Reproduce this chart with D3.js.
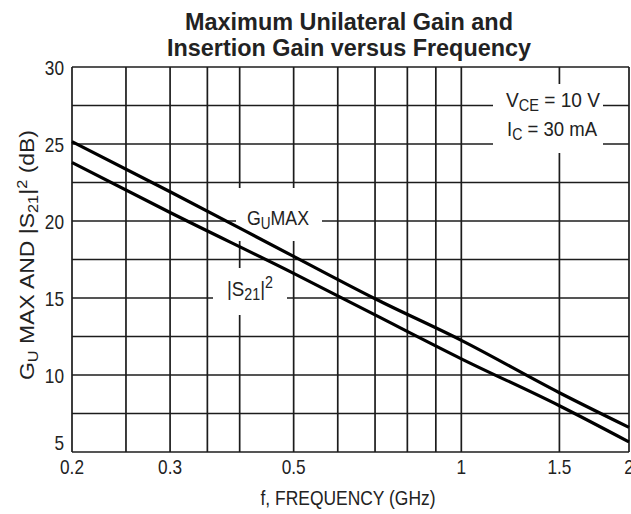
<!DOCTYPE html>
<html>
<head>
<meta charset="utf-8">
<script src="https://cdn.jsdelivr.net/npm/d3@7"></script>
<style>
  body { margin: 0; background: #fff; }
  svg { display: block; }
  text { font-family: "Liberation Sans", Arial, Helvetica, sans-serif; fill: #222; }
</style>
</head>
<body>
<div id="chart"></div>
<script>
// values
const freqs = [0.2, 0.3, 0.5, 0.7, 1, 1.5, 2];
const guMax = [25.15, 21.9, 17.7, 14.95, 12.25, 8.85, 6.6];
const s21 = [23.8, 20.55, 16.6, 13.9, 11.05, 8.0, 5.65];

const xGrid = [0.2, 0.25, 0.3, 0.35, 0.4, 0.5, 0.6, 0.7, 0.8, 0.9, 1, 1.5, 2];
const xTicks = [0.2, 0.3, 0.5, 1, 1.5, 2];
const xTickLabels = ["0.2", "0.3", "0.5", "1", "1.5", "2"];
const yGrid = [5, 7.5, 10, 12.5, 15, 17.5, 20, 22.5, 25, 27.5, 30];
const yTicks = [5, 10, 15, 20, 25, 30];

const W = 631, H = 514;
const x = d3.scaleLog().domain([0.2, 2]).range([72, 629]);
const y = d3.scaleLinear().domain([5, 30]).range([452, 67]);

const svg = d3.select("#chart").append("svg")
  .attr("width", W).attr("height", H);

// grid (also forms the frame)
const grid = svg.append("g").attr("stroke", "#1c1c1c").attr("stroke-width", 1.7);
grid.selectAll("line.v").data(xGrid).enter().append("line")
  .attr("class", "v")
  .attr("x1", d => x(d)).attr("x2", d => x(d))
  .attr("y1", y(30)).attr("y2", y(5));
grid.selectAll("line.h").data(yGrid).enter().append("line")
  .attr("class", "h")
  .attr("x1", x(0.2)).attr("x2", x(2))
  .attr("y1", d => y(d)).attr("y2", d => y(d));

// white patches where the grid is broken for labels
const masks = [[493, 84, 110, 69], [236, 188, 86, 53], [213, 268, 74, 47]];
svg.append("g").selectAll("rect").data(masks).enter().append("rect")
  .attr("x", d => d[0]).attr("y", d => d[1])
  .attr("width", d => d[2]).attr("height", d => d[3])
  .attr("fill", "#fff");

// curves
const line = d3.line().x(d => x(d[0])).y(d => y(d[1])).curve(d3.curveMonotoneX);
[guMax, s21].forEach(vals => {
  svg.append("path")
    .datum(freqs.map((f, i) => [f, vals[i]]))
    .attr("fill", "none")
    .attr("stroke", "#000")
    .attr("stroke-width", 3.2)
    .attr("d", line);
});

// tick labels (narrow face)
const narrow = 0.82;
svg.append("g").selectAll("text").data(xTicks).enter().append("text")
  .attr("transform", d => "translate(" + x(d) + ",474) scale(" + narrow + ",1)")
  .attr("text-anchor", "middle")
  .attr("font-size", 21)
  .text((d, i) => xTickLabels[i]);

svg.append("g").selectAll("text").data(yTicks).enter().append("text")
  .attr("transform", d => "translate(64," + (d === 5 ? y(d) - 2 : y(d) + 7.5) + ") scale(" + narrow + ",1)")
  .attr("text-anchor", "end")
  .attr("font-size", 21)
  .text(d => d);

// title
svg.append("text").attr("x", 349).attr("y", 30)
  .attr("text-anchor", "middle").attr("font-size", 23).attr("font-weight", "bold")
  .attr("fill", "#111")
  .attr("textLength", 328).attr("lengthAdjust", "spacingAndGlyphs")
  .text("Maximum Unilateral Gain and");
svg.append("text").attr("x", 349).attr("y", 56)
  .attr("text-anchor", "middle").attr("font-size", 23).attr("font-weight", "bold")
  .attr("fill", "#111")
  .attr("textLength", 364).attr("lengthAdjust", "spacingAndGlyphs")
  .text("Insertion Gain versus Frequency");

// axis titles
svg.append("text").attr("x", 348).attr("y", 505)
  .attr("text-anchor", "middle").attr("font-size", 21)
  .attr("textLength", 175).attr("lengthAdjust", "spacingAndGlyphs")
  .text("f, FREQUENCY (GHz)");

const yl = svg.append("text")
  .attr("transform", "translate(34,255) rotate(-90)")
  .attr("text-anchor", "middle").attr("font-size", 21)
  .attr("textLength", 250).attr("lengthAdjust", "spacingAndGlyphs");
yl.append("tspan").text("G");
yl.append("tspan").attr("dy", 4).attr("font-size", 15).text("U");
yl.append("tspan").attr("dy", -4).text(" MAX AND |S");
yl.append("tspan").attr("dy", 4).attr("font-size", 15).text("21");
yl.append("tspan").attr("dy", -4).text("|");
yl.append("tspan").attr("dy", -7).attr("font-size", 15).text("2");
yl.append("tspan").attr("dy", 7).text(" (dB)");

// in-plot labels
function label(x0, y0, len, parts) {
  const t = svg.append("text").attr("x", x0).attr("y", y0)
    .attr("font-size", 21)
    .attr("textLength", len).attr("lengthAdjust", "spacingAndGlyphs");
  parts.forEach(p => {
    const s = t.append("tspan").attr("dy", p[1]).text(p[0]);
    if (p[2]) s.attr("font-size", p[2]);
  });
}
label(506, 107, 94, [["V", 0], ["CE", 4, 16], [" = 10 V", -4]]);
label(507, 136, 90, [["I", 0], ["C", 4, 16], [" = 30 mA", -4]]);
label(247, 225, 62, [["G", 0], ["U", 4, 16], ["MAX", -4]]);
label(227, 296, 46, [["|S", 0], ["21", 4, 16], ["|", -4], ["2", -8, 16]]);
</script>
</body>
</html>
